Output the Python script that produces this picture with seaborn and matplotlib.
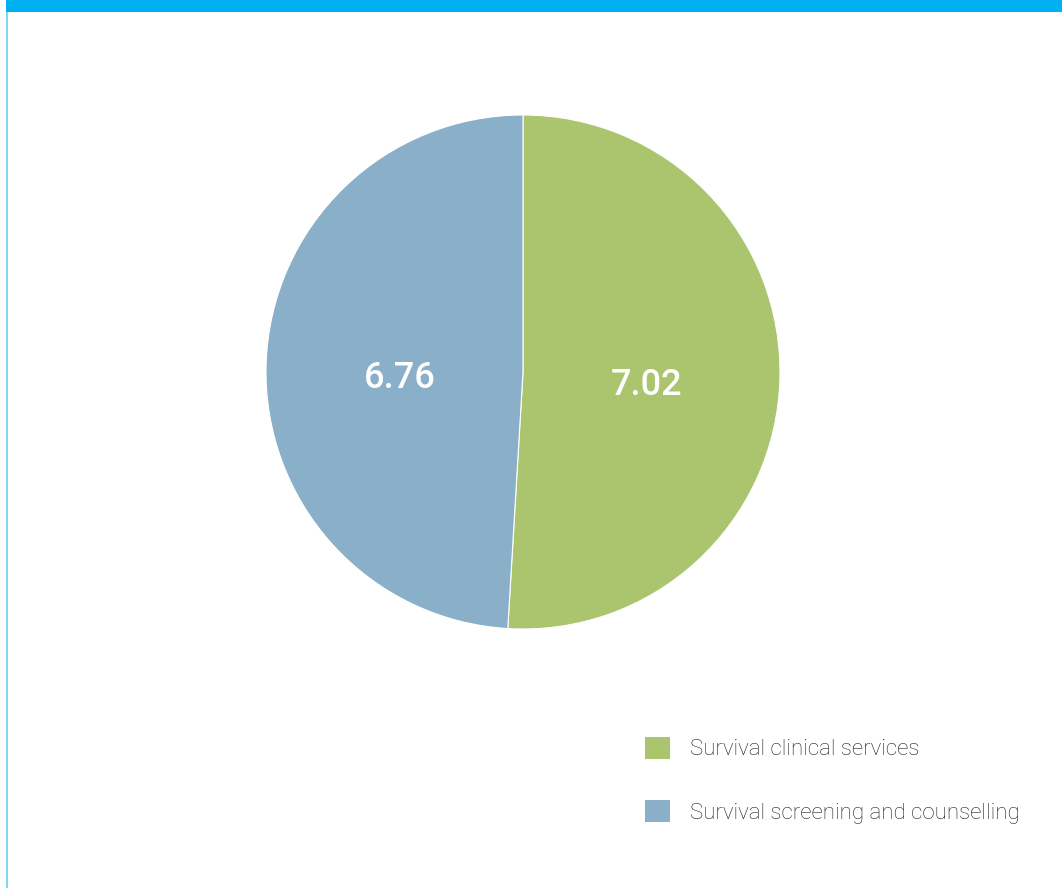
import matplotlib
matplotlib.use("Agg")
import matplotlib.pyplot as plt
import seaborn as sns
from matplotlib.patches import Rectangle

categories = ["Survival clinical services", "Survival screening and counselling"]
values = [7.02, 6.76]
colors = ["#ABC56E", "#89AFC9"]

sns.set_theme(style="white")
plt.rcParams["font.family"] = ["Roboto", "DejaVu Sans"]

W, H = 1062, 888
fig = plt.figure(figsize=(W / 100, H / 100), dpi=100)
fig.patch.set_facecolor("white")

# frame decorations
fig.add_artist(Rectangle((6 / W, 1 - 12 / H), 1, 12 / H, transform=fig.transFigure,
                         facecolor="#00B0F0", edgecolor="none"))
fig.add_artist(Rectangle((6 / W, 0), 2 / W, 1 - 12 / H, transform=fig.transFigure,
                         facecolor="#80D8F8", edgecolor="none"))

ax = fig.add_axes([0, 0, 1, 1])

total = sum(values)
wedges, texts, autotexts = ax.pie(
    values, colors=colors, startangle=90, counterclock=False,
    center=(523, H - 372), radius=257, frame=True,
    autopct=lambda p: f"{p * total / 100:.2f}", pctdistance=0.48,
    textprops=dict(color="white", fontsize=26, fontweight="medium"),
    wedgeprops=dict(linewidth=0.8, edgecolor="white"),
)
for t in autotexts:
    x, y = t.get_position()
    t.set_position((x, y - 10))
ax.set_xlim(0, W)
ax.set_ylim(0, H)
ax.set_aspect("equal")
ax.axis("off")

leg = ax.legend(wedges, categories, loc="upper left",
                bbox_to_anchor=(645 / W, 1 - 737 / H), bbox_transform=fig.transFigure,
                frameon=False, fontsize=16, handlelength=1.12, handleheight=1.12,
                handletextpad=0.9, labelspacing=1.8, borderaxespad=0, borderpad=0)
for t in leg.get_texts():
    t.set_color("#222222")
    t.set_fontweight("light")
for h in leg.legend_handles:
    h.set_edgecolor("none")

fig.savefig("out.png", dpi=100, facecolor="white")
